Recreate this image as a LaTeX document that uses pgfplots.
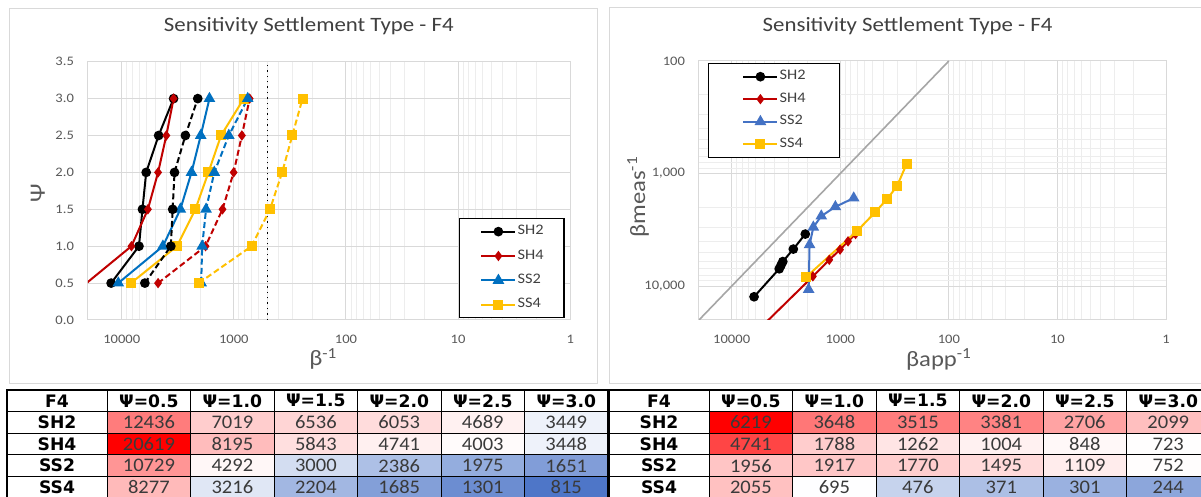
\documentclass[border=0pt]{standalone}
\usepackage{fontspec}
\setmainfont{Carlito}[FakeStretch=1.12]
\newfontfamily\hdrfont{DejaVu Sans}
\newfontfamily\numfont{Carlito}[FakeStretch=1.07]
\usepackage{pgfplots}
\usepackage{pgfplotstable}
\pgfplotsset{compat=1.18}
\pgfplotsset{/pgf/number format/assume math mode=true}

\definecolor{cRed}{HTML}{C00000}
\definecolor{cBlue}{HTML}{0070C0}
\definecolor{cBlueB}{HTML}{4472C4}
\definecolor{cYel}{HTML}{FFC000}
\definecolor{gridM}{HTML}{D9D9D9}
\definecolor{gridm}{HTML}{EDEDED}
\definecolor{txt}{HTML}{595959}
\definecolor{ttl}{HTML}{404040}
\definecolor{numtxt}{HTML}{3A3A3A}
\definecolor{frame}{HTML}{D9D9D9}
\definecolor{diag}{HTML}{A6A6A6}

% m* = left table (beta meas^-1), a* = right table (beta app^-1)
\pgfplotstableread{
psi mSH2 mSH4 mSS2 mSS4 aSH2 aSH4 aSS2 aSS4
0.5 12436 20619 10729 8277 6219 4741 1956 2055
1.0 7019 8195 4292 3216 3648 1788 1917 695
1.5 6536 5843 3000 2204 3515 1262 1770 476
2.0 6053 4741 2386 1685 3381 1004 1495 371
2.5 4689 4003 1975 1301 2706 848 1109 301
3.0 3449 3448 1651 815 2099 723 752 244
}\data

% heat-map cells: column position x, row position y (SS4 bottom ... SH2 top), value v
\pgfplotstableread{
x y v
0.5 0.5 8277
1.5 0.5 3216
2.5 0.5 2204
3.5 0.5 1685
4.5 0.5 1301
5.5 0.5 815
0.5 1.5 10729
1.5 1.5 4292
2.5 1.5 3000
3.5 1.5 2386
4.5 1.5 1975
5.5 1.5 1651
0.5 2.5 20619
1.5 2.5 8195
2.5 2.5 5843
3.5 2.5 4741
4.5 2.5 4003
5.5 2.5 3448
0.5 3.5 12436
1.5 3.5 7019
2.5 3.5 6536
3.5 3.5 6053
4.5 3.5 4689
5.5 3.5 3449
}\heatL

\pgfplotstableread{
x y v
0.5 0.5 2055
1.5 0.5 695
2.5 0.5 476
3.5 0.5 371
4.5 0.5 301
5.5 0.5 244
0.5 1.5 1956
1.5 1.5 1917
2.5 1.5 1770
3.5 1.5 1495
4.5 1.5 1109
5.5 1.5 752
0.5 2.5 4741
1.5 2.5 1788
2.5 2.5 1262
3.5 2.5 1004
4.5 2.5 848
5.5 2.5 723
0.5 3.5 6219
1.5 3.5 3648
2.5 3.5 3515
3.5 3.5 3381
4.5 3.5 2706
5.5 3.5 2099
}\heatR

\pgfdeclareplotmark{nothing}{}

\newcommand{\cellrow}[3]{%
\addplot[only marks, mark=nothing,
 point meta=explicit,
 nodes near coords={\pgfmathprintnumber[fixed,precision=0,1000 sep={}]{\pgfplotspointmeta}},
 every node near coord/.style={anchor=center, inner sep=0pt, text=numtxt, font=\numfont\fontsize{9.6}{10}\selectfont}]
 table[x expr=\coordindex+0.5, y expr=#3, meta=#2]{#1};}

\tikzset{
 sSH2/.style={black, line width=1pt, mark=*, mark size=1.9pt, mark options={solid, fill=black}},
 sSH4/.style={cRed, line width=1pt, mark=diamond*, mark size=1.8pt, mark options={solid, fill=cRed}},
 sSS2/.style={cBlue, line width=1pt, mark=triangle*, mark size=2.4pt, mark options={solid, fill=cBlue}},
 sSS2b/.style={cBlueB, line width=1pt, mark=triangle*, mark size=2.4pt, mark options={solid, fill=cBlueB}},
 sSS4/.style={cYel, line width=1pt, mark=square*, mark size=2pt, mark options={solid, fill=cYel}},
 dsh/.style={dash pattern=on 3pt off 1.6pt}
}

\begin{document}
\begin{tikzpicture}
\path[use as bounding box] (0pt,0pt) rectangle (600.5pt,248.5pt);
\fill[white] (0pt,0pt) rectangle (600.5pt,248.5pt);
\draw[frame, line width=0.5pt] (4.5pt,244pt) rectangle (298.5pt,56.5pt);
\draw[frame, line width=0.5pt] (304.5pt,244.5pt) rectangle (603pt,56.5pt);

% ---------- left chart ----------
\begin{axis}[scale only axis, anchor=south west, at={(44pt,88.5pt)}, width=241.1pt, height=129.15pt,
  xmode=log, x dir=reverse, xmin=1, xmax=20000,
  xtick={1,10,100,1000,10000}, xticklabels={1,10,100,1000,10000},
  minor xtick={2,3,...,9,20,30,...,90,200,300,...,900,2000,3000,...,9000},
  xmajorgrids, xminorgrids, ymajorgrids,
  major grid style={gridM, line width=0.5pt}, minor grid style={gridm, line width=0.5pt},
  axis line style={gridM, line width=0.5pt}, tick style={draw=none},
  tick label style={font=\fontsize{6.5}{7}\selectfont, text=txt},
  xticklabel style={yshift=-4pt}, yticklabel style={xshift=-3.5pt},
  ymin=0, ymax=3.5, ytick={0,0.5,...,3.5},
  yticklabel={\pgfmathprintnumber[fixed,fixed zerofill,precision=1]{\tick}},
  title={Sensitivity Settlement Type - F4},
  title style={at={(axis description cs:0.458,1.071)}, anchor=base, yshift=0pt, font=\fontsize{10.2}{12}\selectfont, text=ttl},
  xlabel={β\textsuperscript{-1}},
  xlabel style={at={(axis description cs:0.488,-0.178)}, anchor=base, font=\fontsize{11}{12}\selectfont, text=txt},
  ylabel={Ψ},
  ylabel style={at={(axis description cs:-0.104,0.49)}, anchor=center, font=\fontsize{11}{12}\selectfont, text=txt},
  legend cell align=left,
  legend image code/.code={\path (-10.4pt,0pt); \draw[mark repeat=2,mark phase=2] plot coordinates {(0pt,0pt) (8.5pt,0pt) (17pt,0pt)};},
  legend style={at={(axis description cs:0.7694,0.3949)}, anchor=north west,
    draw=black, line width=0.6pt, fill=white, text=ttl, font=\fontsize{7.3}{8}\selectfont,
    nodes={inner xsep=0.6pt, inner ysep=1.2pt}, inner xsep=0pt, inner ysep=2.2pt, row sep=3.55pt}]
\addplot[black, dotted, line width=0.7pt, forget plot] coordinates {(500,0) (500,3.5)};
\addplot[sSH2] table[x=mSH2, y=psi]{\data};
\addplot[sSH4] table[x=mSH4, y=psi]{\data};
\addplot[sSS2] table[x=mSS2, y=psi]{\data};
\addplot[sSS4] table[x=mSS4, y=psi]{\data};
\addplot[sSH2, dsh, forget plot] table[x=aSH2, y=psi]{\data};
\addplot[sSH4, dsh, forget plot] table[x=aSH4, y=psi]{\data};
\addplot[sSS2, dsh, forget plot] table[x=aSS2, y=psi]{\data};
\addplot[sSS4, dsh, forget plot] table[x=aSS4, y=psi]{\data};
\legend{\makebox[22.6pt][l]{SH2},\makebox[22.6pt][l]{SH4},\makebox[22.6pt][l]{SS2},\makebox[22.6pt][l]{SS4}}
\end{axis}

% ---------- right chart ----------
\begin{axis}[scale only axis, anchor=south west, at={(349.5pt,88.5pt)}, width=233.5pt, height=129.5pt,
  xmode=log, x dir=reverse, xmin=1, xmax=20000,
  xtick={1,10,100,1000,10000}, xticklabels={1,10,100,1000,10000},
  minor xtick={2,3,...,9,20,30,...,90,200,300,...,900,2000,3000,...,9000},
  ymode=log, y dir=reverse, ymin=100, ymax=20000,
  ytick={100,1000,10000}, yticklabels={100,{1,000},{10,000}},
  minor ytick={200,300,...,900,2000,3000,...,9000},
  xmajorgrids, xminorgrids, ymajorgrids, yminorgrids,
  major grid style={gridM, line width=0.5pt}, minor grid style={gridm, line width=0.5pt},
  axis line style={gridM, line width=0.5pt}, tick style={draw=none},
  tick label style={font=\fontsize{6.5}{7}\selectfont, text=txt},
  xticklabel style={yshift=-4pt}, yticklabel style={xshift=-3.5pt},
  title={Sensitivity Settlement Type - F4},
  title style={at={(axis description cs:0.4467,1.068)}, anchor=base, yshift=0pt, font=\fontsize{10.2}{12}\selectfont, text=ttl},
  xlabel={βapp\textsuperscript{-1}},
  xlabel style={at={(axis description cs:0.514,-0.178)}, anchor=base, font=\fontsize{11}{12}\selectfont, text=txt},
  ylabel={βmeas\textsuperscript{-1}},
  ylabel style={at={(axis description cs:-0.1306,0.475)}, anchor=center, font=\fontsize{11}{12}\selectfont, text=txt},
  legend cell align=left,
  legend image code/.code={\path (-16.9pt,0pt); \draw[mark repeat=2,mark phase=2] plot coordinates {(0pt,0pt) (8.5pt,0pt) (17pt,0pt)};},
  legend style={at={(axis description cs:0.0193,0.992)}, anchor=north west,
    draw=black, line width=0.6pt, fill=white, text=ttl, font=\fontsize{7.3}{8}\selectfont,
    nodes={inner xsep=0.6pt, inner ysep=1.2pt}, inner xsep=0pt, inner ysep=2.2pt, row sep=2.6pt}]
\addplot[diag, line width=0.8pt, forget plot] coordinates {(20000,20000) (100,100)};
\addplot[sSH2] table[x=aSH2, y=mSH2]{\data};
\addplot[sSH4] table[x=aSH4, y=mSH4]{\data};
\addplot[sSS2b] table[x=aSS2, y=mSS2]{\data};
\addplot[sSS4] table[x=aSS4, y=mSS4]{\data};
\legend{\makebox[29.5pt][l]{SH2},\makebox[29.5pt][l]{SH4},\makebox[29.5pt][l]{SS2},\makebox[29.5pt][l]{SS4}}
\end{axis}

% ---------- left table ----------
\begin{axis}[scale only axis, width=300.5pt, height=54pt, anchor=south west, at={(3.5pt,-0.5pt)},
  xmin=-1.2, xmax=6, ymin=0, ymax=5, axis on top,
  xtick={-0.6,0.5,1.5,2.5,3.5,4.5,5.5},
  xticklabels={F4,{Ψ=0.5},{Ψ=1.0},{Ψ=1.5},{Ψ=2.0},{Ψ=2.5},{Ψ=3.0}},
  xticklabel pos=upper,
  xticklabel style={anchor=center, yshift=-5.4pt, inner sep=0pt, text=black,
    font=\hdrfont\bfseries\fontsize{8.6}{10}\selectfont},
  ytick={0.5,1.5,2.5,3.5}, yticklabels={SS4,SS2,SH4,SH2},
  yticklabel style={anchor=center, xshift=25.04pt, inner sep=0pt, text=black,
    font=\hdrfont\bfseries\fontsize{8.6}{10}\selectfont},
  minor xtick={0,1,2,3,4,5}, minor ytick={1,2,3,4},
  xminorgrids=true, yminorgrids=true, xmajorgrids=false, ymajorgrids=false,
  minor grid style={black, line width=0.55pt},
  major tick length=0pt, minor tick length=0pt, tick style={draw=none},
  axis line style={black, line width=0.8pt},
  colormap={rwb}{rgb255(0cm)=(78,118,200); rgb255(1cm)=(255,255,255); rgb255(2cm)=(255,0,0)},
  point meta min=-1, point meta max=1]
\addplot[matrix plot*, mesh/cols=6, draw=none,
  point meta={min(\thisrow{v}-3726,0)/2911+max(\thisrow{v}-3726,0)/16893}]
  table[x=x, y=y]{\heatL};
\cellrow{\data}{mSH2}{3.5}
\cellrow{\data}{mSH4}{2.5}
\cellrow{\data}{mSS2}{1.5}
\cellrow{\data}{mSS4}{0.5}
\end{axis}

% ---------- right table ----------
\begin{axis}[scale only axis, width=300.5pt, height=54pt, anchor=south west, at={(304.5pt,-0.5pt)},
  xmin=-1.2, xmax=6, ymin=0, ymax=5, axis on top,
  xtick={-0.6,0.5,1.5,2.5,3.5,4.5,5.5},
  xticklabels={F4,{Ψ=0.5},{Ψ=1.0},{Ψ=1.5},{Ψ=2.0},{Ψ=2.5},{Ψ=3.0}},
  xticklabel pos=upper,
  xticklabel style={anchor=center, yshift=-5.4pt, inner sep=0pt, text=black,
    font=\hdrfont\bfseries\fontsize{8.6}{10}\selectfont},
  ytick={0.5,1.5,2.5,3.5}, yticklabels={SS4,SS2,SH4,SH2},
  yticklabel style={anchor=center, xshift=25.04pt, inner sep=0pt, text=black,
    font=\hdrfont\bfseries\fontsize{8.6}{10}\selectfont},
  minor xtick={0,1,2,3,4,5}, minor ytick={1,2,3,4},
  xminorgrids=true, yminorgrids=true, xmajorgrids=false, ymajorgrids=false,
  minor grid style={black, line width=0.55pt},
  major tick length=0pt, minor tick length=0pt, tick style={draw=none},
  axis line style={black, line width=0.8pt},
  colormap={rwb}{rgb255(0cm)=(78,118,200); rgb255(1cm)=(255,255,255); rgb255(2cm)=(255,0,0)},
  point meta min=-1, point meta max=1]
\addplot[matrix plot*, mesh/cols=6, draw=none,
  point meta={min(\thisrow{v}-700,0)/700+max(\thisrow{v}-700,0)/5519}]
  table[x=x, y=y]{\heatR};
\cellrow{\data}{aSH2}{3.5}
\cellrow{\data}{aSH4}{2.5}
\cellrow{\data}{aSS2}{1.5}
\cellrow{\data}{aSS4}{0.5}
\end{axis}
\end{tikzpicture}
\end{document}
